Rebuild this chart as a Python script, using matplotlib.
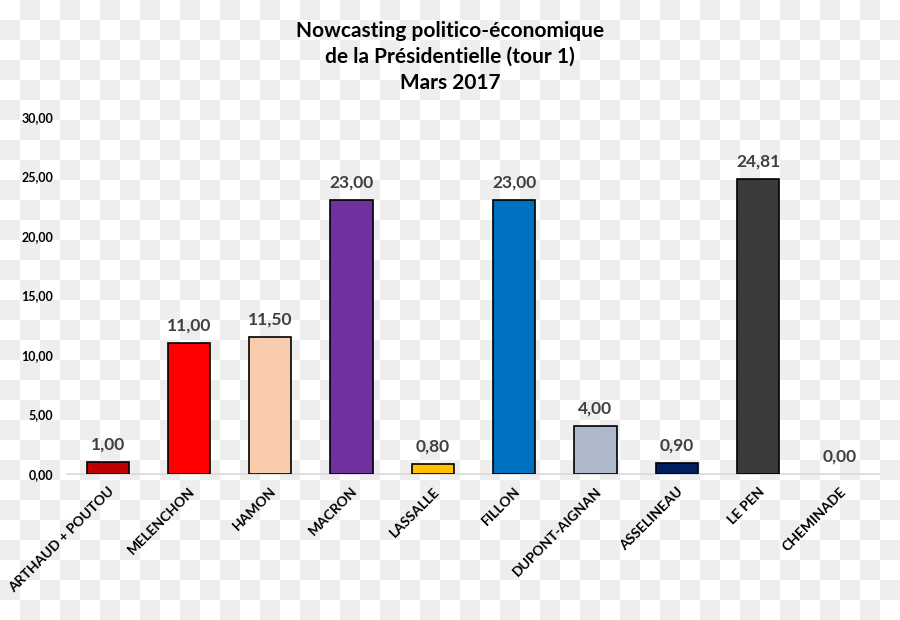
import numpy as np
import matplotlib
matplotlib.use("Agg")
import matplotlib.pyplot as plt

candidates = ["ARTHAUD + POUTOU", "MELENCHON", "HAMON", "MACRON", "LASSALLE",
              "FILLON", "DUPONT-AIGNAN", "ASSELINEAU", "LE PEN", "CHEMINADE"]
values = [1.00, 11.00, 11.50, 23.00, 0.80, 23.00, 4.00, 0.90, 24.81, 0.00]
colors = ["#C00000", "#FF0000", "#F8CBAD", "#7030A0", "#FFC000",
          "#0070C0", "#ADB9CA", "#002060", "#3B3B3B", "#FFFFFF"]
yticks = [0, 5, 10, 15, 20, 25, 30]

plt.rcParams['font.family'] = ['Lato', 'DejaVu Sans']

fig = plt.figure(figsize=(9, 6.2), dpi=100)

# checkerboard background (as in reference image)
H, W = 620, 900
yy, xx = np.mgrid[0:H, 0:W]
chk = (((xx // 20) + (yy // 20)) % 2).astype(float)
bg = np.where(chk[..., None] == 1, 0.937, 1.0) * np.ones((H, W, 3))
fig.figimage(bg, xo=0, yo=0, zorder=-10)

ax = fig.add_axes([67 / 900, 1 - 474 / 620, (880 - 67) / 900, (474 - 117) / 620])
ax.patch.set_alpha(0)

x = np.arange(len(candidates))
lws = [1.2 if v > 0 else 0 for v in values]
ax.bar(x, values, width=0.52, color=colors, edgecolor="black", linewidth=lws, zorder=3)

for xi, v in zip(x, values):
    ax.text(xi, v + 0.8, f"{v:.2f}".replace(".", ","), ha="center", va="bottom",
            fontsize=12.5, fontweight="bold", color="#404040")

ax.set_xlim(-0.5, len(candidates) - 0.5)
ax.set_ylim(0, 30)
ax.set_yticks(yticks)
ax.set_yticklabels([f"{t:.2f}".replace(".", ",") for t in yticks],
                   fontsize=9, fontweight="bold", color="black")
ax.set_xticks(x)
ax.set_xticklabels(candidates, rotation=45, ha="right", rotation_mode="anchor",
                   fontsize=10, fontweight="bold", color="black")
ax.tick_params(axis="both", length=0)
ax.tick_params(axis="y", pad=10)
ax.tick_params(axis="x", pad=8)
for s in ["top", "right", "left"]:
    ax.spines[s].set_visible(False)
ax.spines["bottom"].set_color("#D9D9D9")
ax.spines["bottom"].set_linewidth(1.2)

fig.text(0.5, 1 - 57 / 620, "Nowcasting politico-économique\nde la Présidentielle (tour 1)\nMars 2017",
         ha="center", va="center", fontsize=15, fontweight="bold", linespacing=1.35,
         color="black")

fig.savefig("out.png", dpi=100)
